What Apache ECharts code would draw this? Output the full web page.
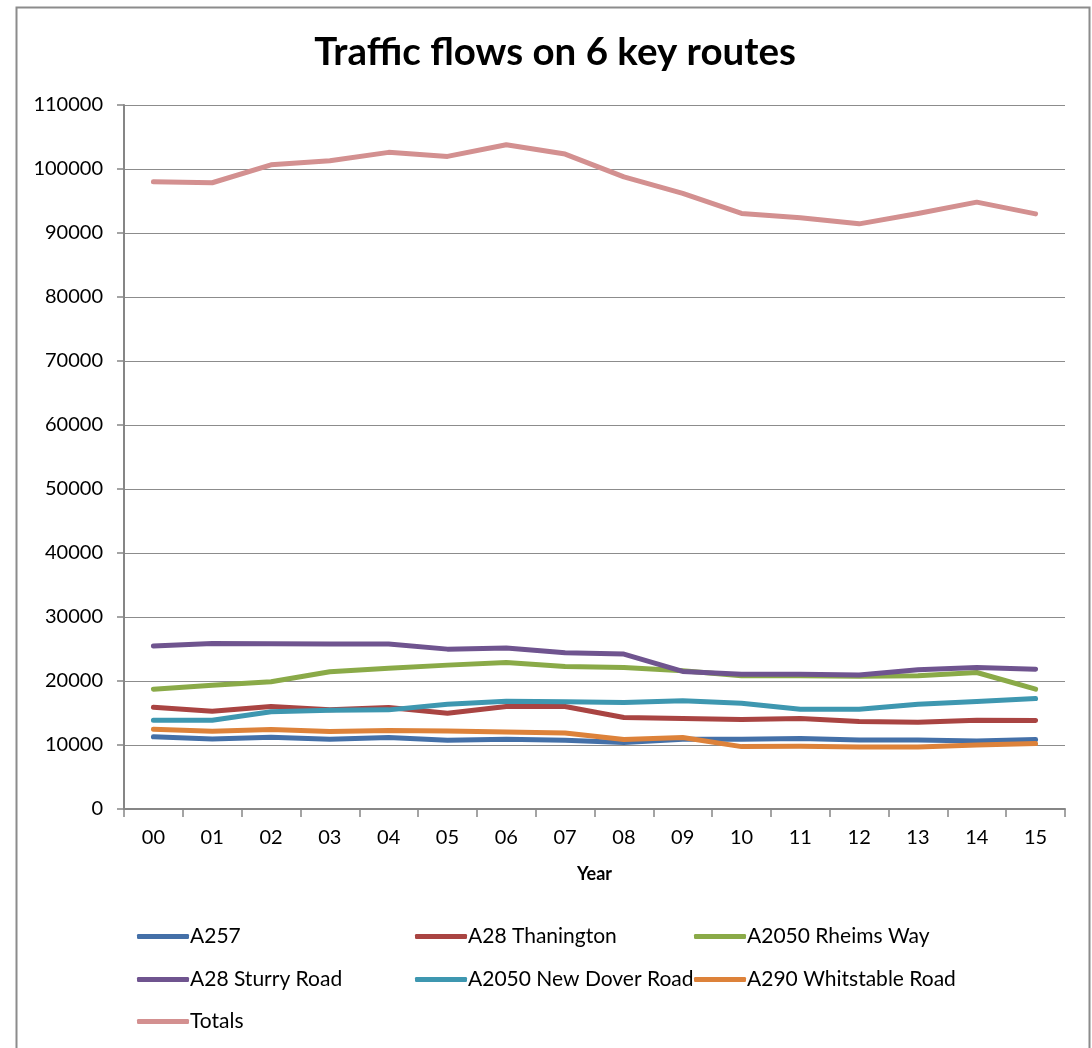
<!DOCTYPE html>
<html>
<head>
<meta charset="utf-8">
<script src="https://cdn.jsdelivr.net/npm/echarts@6/dist/echarts.min.js"></script>
<style>
html,body{margin:0;padding:0;background:#fff;}
#c{width:1092px;height:1048px;}
</style>
</head>
<body>
<div id="c"></div>
<script>
const years = ['00','01','02','03','04','05','06','07','08','09','10','11','12','13','14','15'];
const a257 = [11270,10950,11210,10900,11160,10740,10900,10740,10380,10900,10900,11010,10800,10800,10640,10850];
const a28Thanington = [15910,15280,16010,15490,15860,14970,16010,16010,14290,14130,13980,14130,13670,13560,13870,13820];
const a2050Rheims = [18720,19350,19870,21440,22010,22480,22900,22270,22110,21590,20810,20810,20760,20810,21330,18720];
const a28Sturry = [25450,25870,25820,25770,25770,24980,25140,24400,24200,21490,21070,21070,20920,21750,22110,21850];
const a2050NewDover = [13870,13870,15180,15440,15490,16380,16850,16740,16640,16900,16530,15600,15600,16380,16790,17260];
const a290Whitstable = [12470,12150,12410,12100,12260,12200,12050,11890,10850,11160,9750,9800,9700,9700,10010,10220];
const totals = [98000,97850,100660,101290,102600,101970,103790,102330,98780,96180,93050,92370,91430,93050,94820,92990];
const yTicks = {min:0, max:110000, interval:10000};

const seriesDefs = [
  {name:'A257', data:a257, color:'#4470A8'},
  {name:'A28 Thanington', data:a28Thanington, color:'#A94442'},
  {name:'A2050 Rheims Way', data:a2050Rheims, color:'#8AAA48'},
  {name:'A28 Sturry Road', data:a28Sturry, color:'#6F548F'},
  {name:'A2050 New Dover Road', data:a2050NewDover, color:'#3E97B0'},
  {name:'A290 Whitstable Road', data:a290Whitstable, color:'#DD823A'},
  {name:'Totals', data:totals, color:'#D39090'}
];

const FONT = 'Lato, "Open Sans", sans-serif';
const legendPos = [
  [137,926],[415,926],[694,926],
  [137,969],[415,969],[694,969],
  [137,1011]
];
const legends = seriesDefs.map((s,i)=>({
  data:[s.name],
  left:legendPos[i][0], top:legendPos[i][1],
  orient:'horizontal',
  icon:'roundRect',
  itemWidth:52, itemHeight:5,
  itemGap:0, padding:0,
  selectedMode:false,
  textStyle:{fontFamily:FONT, fontSize:21, color:'#000', padding:[0,0,0,-4]}
}));

const chart = echarts.init(document.getElementById('c'), null, {renderer:'canvas'});
chart.setOption({
  animation:false,
  backgroundColor:'#fff',
  graphic:[{
    type:'rect', silent:true, z:-1,
    shape:{x:16.5, y:7.5, width:1073, height:1100},
    style:{fill:'#fff', stroke:'#8c8c8c', lineWidth:2}
  }],
  title:{
    text:'Traffic flows on 6 key routes',
    left:550, top:28, textAlign:'center',
    textStyle:{fontFamily:FONT, fontWeight:'bold', fontSize:38.5, color:'#000'}
  },
  legend:legends,
  grid:{left:124, right:27, top:105, bottom:239, containLabel:false},
  xAxis:{
    type:'category', data:years, boundaryGap:true,
    name:'Year', nameLocation:'middle', nameGap:56,
    nameTextStyle:{fontFamily:FONT, fontWeight:'bold', fontSize:18, color:'#000'},
    axisLine:{lineStyle:{color:'#868686', width:2}},
    axisTick:{show:true, length:8, alignWithLabel:false, lineStyle:{color:'#868686', width:1.5}},
    axisLabel:{fontFamily:FONT, fontSize:20, color:'#000', margin:19}
  },
  yAxis:{
    type:'value', min:yTicks.min, max:yTicks.max, interval:yTicks.interval,
    axisLine:{show:true, lineStyle:{color:'#868686', width:2}},
    axisTick:{show:true, length:7, lineStyle:{color:'#868686', width:1.5}},
    splitLine:{show:true, lineStyle:{color:'#8c8c8c', width:1.2}},
    axisLabel:{fontFamily:FONT, fontSize:20, color:'#000', margin:21, formatter:v=>String(v)}
  },
  series:seriesDefs.map(s=>({
    name:s.name, type:'line', data:s.data,
    showSymbol:false, symbol:'none',
    lineStyle:{color:s.color, width:5, cap:'round', join:'round'},
    itemStyle:{color:s.color}
  }))
});
</script>
</body>
</html>
